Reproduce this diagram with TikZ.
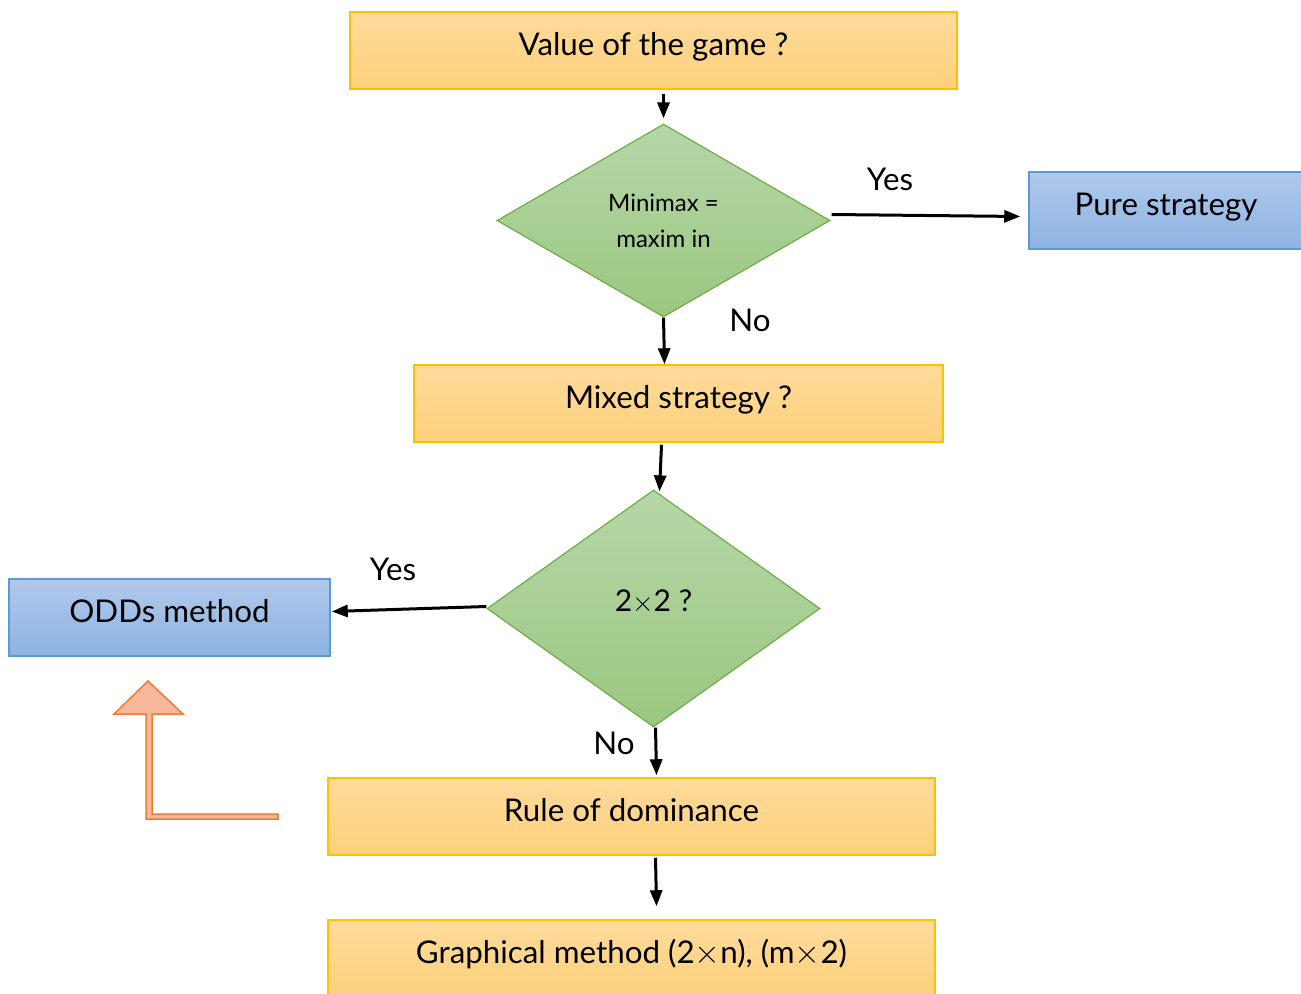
\documentclass[tikz,border=0pt]{standalone}
\usepackage{fontspec}
\setmainfont{Lato}
\usetikzlibrary{shapes.geometric,arrows.meta,calc}
\newcommand\px[1]{#1*0.75pt}
\definecolor{orfillT}{HTML}{FFDB9C}
\definecolor{orfillB}{HTML}{FDD07A}
\definecolor{ordraw}{HTML}{FFC000}
\definecolor{grfillT}{HTML}{B6D7A8}
\definecolor{grfillB}{HTML}{9BC781}
\definecolor{grdraw}{HTML}{70AD47}
\definecolor{blfillT}{HTML}{B0C9EC}
\definecolor{blfillB}{HTML}{8DB3E2}
\definecolor{bldraw}{HTML}{5B9BD5}
\definecolor{arfill}{HTML}{F7B89B}
\definecolor{ardraw}{HTML}{ED7D31}
\tikzset{
  boxtext/.style={font=\fontsize{23.5}{28}\selectfont, text height=0.75em, text depth=0.05em},
  stepbox/.style={rectangle, draw=ordraw, line width=\px{1.5}, top color=orfillT, bottom color=orfillB,
    minimum width=\px{607}, minimum height=\px{77}, inner sep=0pt, boxtext},
  endbox/.style={rectangle, draw=bldraw, line width=\px{1.5}, top color=blfillT, bottom color=blfillB,
    minimum height=\px{77}, inner sep=0pt, boxtext},
  test/.style={diamond, draw=grdraw, line width=\px{1.2}, top color=grfillT, bottom color=grfillB,
    inner sep=0pt, aspect=1.7},
  lbl/.style={font=\fontsize{23.5}{28}\selectfont, inner sep=0pt},
  arr/.style={-{Triangle[length=\px{16},width=\px{12}]}, line width=\px{3}, black},
}
\begin{document}
\begin{tikzpicture}[x=0.75pt,y=-0.75pt]
\useasboundingbox (0,0) rectangle (1301,994);

% process boxes
\node[stepbox] (value) at (653.5,50.5) {Value of the game ?};
\node[stepbox, minimum width=\px{529}] (mixed) at (678.5,403.5) {Mixed strategy ?};
\node[stepbox] (rule) at (631.5,816.5) {Rule of dominance};
\node[stepbox] (graph) at (631.5,958.5) {Graphical method (2$\times$n), (m$\times$2)};

% decisions
\node[test, minimum width=\px{333}, minimum height=\px{193}, font=\fontsize{18}{27}\selectfont, align=center]
  (minimax) at (663.5,220.5) {Minimax =\\maxim in};
\node[test, minimum width=\px{333}, minimum height=\px{237}, font=\fontsize{22.5}{27}\selectfont,
  text height=0.7em, text depth=3pt]
  (twobytwo) at (653.5,608.5) {2$\times$2 ?};

% outcome boxes
\node[endbox, minimum width=\px{274}] (pure) at (1166,210.5) {Pure strategy};
\node[endbox, minimum width=\px{321}] (odds) at (169.5,617.5) {ODDs method};

% connectors
\draw[arr] ($(value.south -| minimax.north)+(0,4)$) -- ($(minimax.north)+(0,-5)$);
\draw[arr] ($(minimax.east)+(1,-6)$) -- ($(pure.west |- minimax.east)+(-8,-4)$);
\draw[arr] (minimax.south) -- ($(mixed.north -| minimax.south)+(1,0)$);
\draw[arr] ($(mixed.south)+(-17,2)$) -- ($(twobytwo.north)+(6,2)$);
\draw[arr] ($(twobytwo.west)+(0,-2)$) -- ($(odds.east)+(1,-6)$);
\draw[arr] ($(twobytwo.south)+(2,0)$) -- ($(rule.north -| twobytwo.south)+(3,-2)$);
\draw[arr] ($(rule.south)+(24,2)$) -- ($(graph.north)+(25,-13)$);

% branch labels
\node[lbl] (yes1) at (890,179) {Yes};
\node[lbl] (no1) at (750,320) {No};
\node[lbl] (yes2) at (393,569) {Yes};
\node[lbl] (no2) at (614,743) {No};

% bent block arrow pointing up
\draw[draw=ardraw, fill=arfill, line width=\px{1.5}, line join=miter]
  (146,819) -- (278,819) -- (278,814) -- (152,814) -- (152,714) -- (183,714)
  -- (148,681) -- (114,714) -- (146,714) -- cycle;
\end{tikzpicture}
\end{document}
